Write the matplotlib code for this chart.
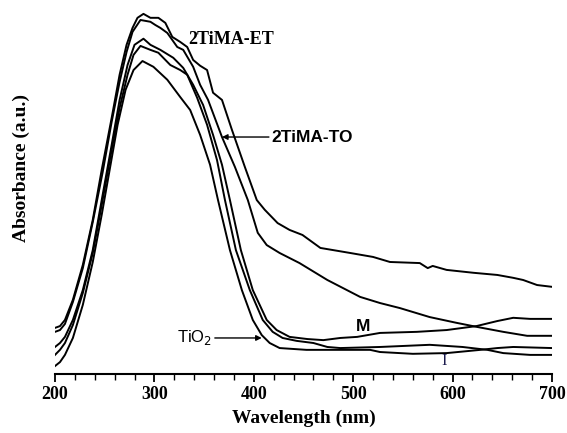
import numpy as np
import matplotlib
matplotlib.use("Agg")
import matplotlib.pyplot as plt
from matplotlib.ticker import MultipleLocator

# Valeurs (longueur d'onde en nm, absorbance en u.a.)
wl_et = [200, 205, 210, 218, 228, 238, 247, 257, 265, 272, 278, 283, 289, 296,
         304, 311, 318, 326, 333, 339, 346, 353, 359, 368, 378, 391, 403, 411,
         424, 436, 449, 467, 497, 520, 537, 567, 575, 580, 594, 621, 645, 661,
         671, 685, 700]
abs_et = [0.128, 0.133, 0.150, 0.206, 0.303, 0.428, 0.567, 0.711, 0.831, 0.914,
          0.961, 0.989, 1.000, 0.989, 0.989, 0.975, 0.936, 0.922, 0.908, 0.872,
          0.856, 0.844, 0.781, 0.761, 0.678, 0.575, 0.483, 0.456, 0.419, 0.400,
          0.386, 0.350, 0.336, 0.325, 0.311, 0.308, 0.294, 0.300, 0.289, 0.281,
          0.275, 0.267, 0.261, 0.247, 0.242]

wl_to = [200, 205, 210, 218, 228, 238, 248, 257, 265, 272, 278, 286, 296, 301,
         306, 313, 323, 329, 339, 346, 354, 368, 381, 394, 404, 413, 426, 446,
         474, 507, 527, 547, 577, 604, 624, 651, 675, 700]
abs_to = [0.117, 0.122, 0.139, 0.200, 0.294, 0.422, 0.561, 0.700, 0.811, 0.894,
          0.950, 0.983, 0.978, 0.969, 0.961, 0.947, 0.908, 0.900, 0.853, 0.803,
          0.761, 0.658, 0.575, 0.483, 0.392, 0.358, 0.336, 0.308, 0.261, 0.214,
          0.197, 0.183, 0.158, 0.142, 0.131, 0.117, 0.106, 0.106]

wl_m = [200, 205, 210, 218, 228, 238, 247, 257, 265, 273, 280, 289, 296, 306,
        319, 329, 339, 349, 359, 368, 376, 387, 399, 413, 423, 436, 454, 470,
        487, 504, 527, 564, 594, 624, 645, 661, 678, 700]
abs_m = [0.075, 0.086, 0.103, 0.150, 0.233, 0.344, 0.483, 0.636, 0.761, 0.858,
         0.914, 0.931, 0.914, 0.900, 0.878, 0.850, 0.803, 0.747, 0.664, 0.581,
         0.483, 0.344, 0.233, 0.150, 0.122, 0.103, 0.097, 0.094, 0.100, 0.103,
         0.114, 0.117, 0.122, 0.133, 0.147, 0.156, 0.153, 0.153]

wl_i = [200, 205, 210, 218, 228, 238, 247, 257, 265, 273, 279, 286, 296, 304,
        316, 326, 333, 343, 353, 363, 371, 382, 396, 409, 419, 429, 443, 460,
        474, 487, 527, 577, 610, 635, 651, 678, 700]
abs_i = [0.053, 0.067, 0.086, 0.136, 0.225, 0.336, 0.469, 0.622, 0.739, 0.831,
         0.886, 0.911, 0.900, 0.892, 0.858, 0.844, 0.831, 0.767, 0.692, 0.594,
         0.483, 0.344, 0.233, 0.150, 0.117, 0.100, 0.092, 0.086, 0.075, 0.072,
         0.075, 0.081, 0.075, 0.067, 0.058, 0.053, 0.053]

wl_tio2 = [200, 205, 210, 218, 228, 238, 247, 255, 263, 271, 279, 288, 299,
           313, 326, 336, 346, 356, 364, 376, 388, 399, 408, 416, 426, 453,
           517, 527, 560, 594, 628, 645, 661, 700]
abs_tio2 = [0.022, 0.033, 0.053, 0.100, 0.192, 0.311, 0.442, 0.567, 0.692,
            0.789, 0.844, 0.869, 0.853, 0.817, 0.769, 0.733, 0.664, 0.581,
            0.483, 0.344, 0.233, 0.150, 0.108, 0.086, 0.072, 0.067, 0.067,
            0.061, 0.056, 0.058, 0.067, 0.072, 0.075, 0.072]

series = [
    (wl_et, abs_et),
    (wl_to, abs_to),
    (wl_m, abs_m),
    (wl_i, abs_i),
    (wl_tio2, abs_tio2),
]

serif = "Liberation Serif"
sans = "Liberation Sans"

fig = plt.figure(figsize=(5.67, 4.33), dpi=100)
ax = fig.add_axes([0.097, 0.1363, 0.8765, 0.8475])

for wl, ab in series:
    ax.plot(wl, ab, color="black", linewidth=1.4)

ax.set_xlim(200, 700)
ax.set_ylim(0, 1.019)

# Seul l'axe du bas est visible
for side in ["left", "right", "top"]:
    ax.spines[side].set_visible(False)
ax.spines["bottom"].set_linewidth(1.5)
ax.set_yticks([])

ax.xaxis.set_major_locator(MultipleLocator(100))
ax.xaxis.set_minor_locator(MultipleLocator(20))
ax.tick_params(axis="x", which="major", direction="out", length=6, width=1.3,
               pad=3)
ax.tick_params(axis="x", which="minor", direction="out", length=4, width=1.0)
for lab in ax.get_xticklabels():
    lab.set_fontfamily(serif)
    lab.set_fontweight("bold")
    lab.set_fontsize(13)

ax.set_xlabel("Wavelength (nm)", fontfamily=serif, fontweight="bold",
              fontsize=14)
ax.set_ylabel("Absorbance (a.u.)", fontfamily=serif, fontweight="bold",
              fontsize=14)
ax.xaxis.set_label_coords(0.5, -0.097)
ax.yaxis.set_label_coords(-0.05, 0.561)

# Étiquettes des courbes
ax.text(334, 0.928, "2TiMA-ET", fontfamily=serif, fontweight="bold",
        fontsize=13, va="center", ha="left")
ax.annotate("2TiMA-TO", xy=(368, 0.658), xytext=(418, 0.658),
            fontfamily=sans, fontweight="bold", fontsize=12.5,
            va="center", ha="left",
            arrowprops=dict(arrowstyle="-|>", color="black", lw=1.0,
                            mutation_scale=8, shrinkA=0, shrinkB=0))
ax.text(510, 0.131, "M", fontfamily=sans, fontweight="bold", fontsize=12.5,
        va="center", ha="center")
ax.annotate("TiO$_2$", xy=(408, 0.1), xytext=(358, 0.1),
            fontfamily=sans, fontsize=12, va="center", ha="right",
            arrowprops=dict(arrowstyle="-|>", color="black", lw=1.0,
                            mutation_scale=8, shrinkA=0, shrinkB=0))
ax.text(592, 0.035, "I", fontfamily=serif, fontsize=12, color="#1a1a4d",
        va="center", ha="center")

fig.savefig("out.png", dpi=100)
